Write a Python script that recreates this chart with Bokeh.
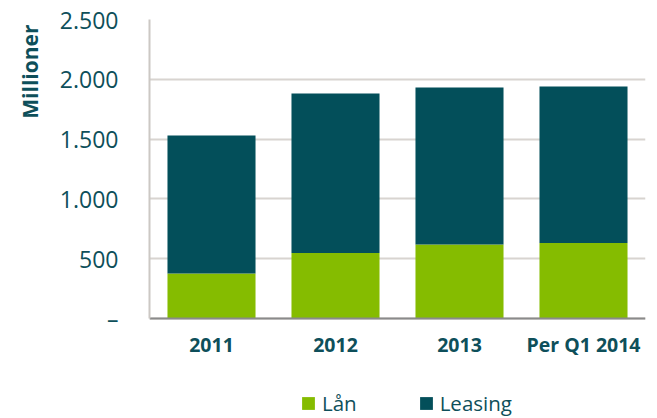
from bokeh.plotting import figure
from bokeh.models import ColumnDataSource, Legend, LegendItem, FixedTicker, FactorRange, Range1d, Title
from bokeh.embed import file_html
from bokeh.resources import INLINE

categories = ["2011", "2012", "2013", "Per Q1 2014"]
laan = [376, 548, 619, 631]
leasing = [1154, 1333, 1312, 1309]
y_ticks = [0, 500, 1000, 1500, 2000, 2500]
y_tick_labels = ["–", "500", "1.000", "1.500", "2.000", "2.500"]
series_names = ["Lån", "Leasing"]

TEXT = "#0E4F5A"
GREEN = "#85BC00"
TEAL = "#034F5A"
FONT = "Open Sans"

# layout (pixels): value axis 0..2500 spans 299 px; frame extends down to hold labels + legend
Y_MAX = y_ticks[-1]
AXIS_PX = 299
FRAME_TOP = 19
CANVAS_H = 417
frame_h = CANVAS_H - FRAME_TOP
y_start = Y_MAX - Y_MAX * frame_h / AXIS_PX

source = ColumnDataSource(dict(cat=categories, laan=laan, leasing=leasing))

p = figure(x_range=FactorRange(*categories, range_padding=0), y_range=Range1d(y_start, Y_MAX),
           frame_width=496, frame_height=frame_h, output_backend="svg", toolbar_location=None,
           min_border_left=148, min_border_right=10, min_border_top=FRAME_TOP, min_border_bottom=0)

r = p.vbar_stack(["laan", "leasing"], x="cat", width=0.71, color=[GREEN, TEAL],
                 source=source, line_color=None)

p.outline_line_color = None
p.xgrid.grid_line_color = None
p.ygrid.grid_line_color = "#D8D4D0"
p.ygrid.grid_line_width = 2
p.yaxis.ticker = FixedTicker(ticks=y_ticks)
p.yaxis.bounds = (0, Y_MAX)
p.yaxis.major_label_overrides = {t: l for t, l in zip(y_ticks, y_tick_labels)}
p.yaxis.major_tick_line_color = None
p.yaxis.major_tick_out = 0
p.yaxis.major_tick_in = 0
p.yaxis.minor_tick_line_color = None
p.yaxis.axis_line_color = "#CCC8C4"
p.yaxis.axis_line_width = 2
p.yaxis.major_label_text_font = FONT
p.yaxis.major_label_text_font_size = "23px"
p.yaxis.major_label_text_color = TEXT
p.yaxis.major_label_standoff = 31

ytitle = Title(text="Millioner", align="right", text_font=FONT, text_font_style="bold",
               text_font_size="21px", text_color=TEXT, offset=5, standoff=26)
p.add_layout(ytitle, "left")

p.xaxis.fixed_location = 0
p.xaxis.major_tick_line_color = None
p.xaxis.major_tick_out = 0
p.xaxis.major_tick_in = 0
p.xaxis.minor_tick_line_color = None
p.xaxis.axis_line_color = "#8A8A8A"
p.xaxis.axis_line_width = 2
p.xaxis.major_label_text_font = FONT
p.xaxis.major_label_text_font_style = "bold"
p.xaxis.major_label_text_font_size = "19.5px"
p.xaxis.major_label_text_color = TEXT
p.xaxis.major_label_standoff = 12

legend = Legend(items=[LegendItem(label=series_names[0], renderers=[r[0]]),
                       LegendItem(label=series_names[1], renderers=[r[1]])],
                orientation="horizontal", location=(151, 0),
                glyph_width=16, glyph_height=16, label_standoff=6, spacing=61,
                label_text_font=FONT, label_text_font_size="20.5px", label_text_color=TEXT,
                border_line_color=None, background_fill_alpha=0, margin=0, padding=0)
p.add_layout(legend)

open("out.html", "w").write(file_html(p, INLINE))
